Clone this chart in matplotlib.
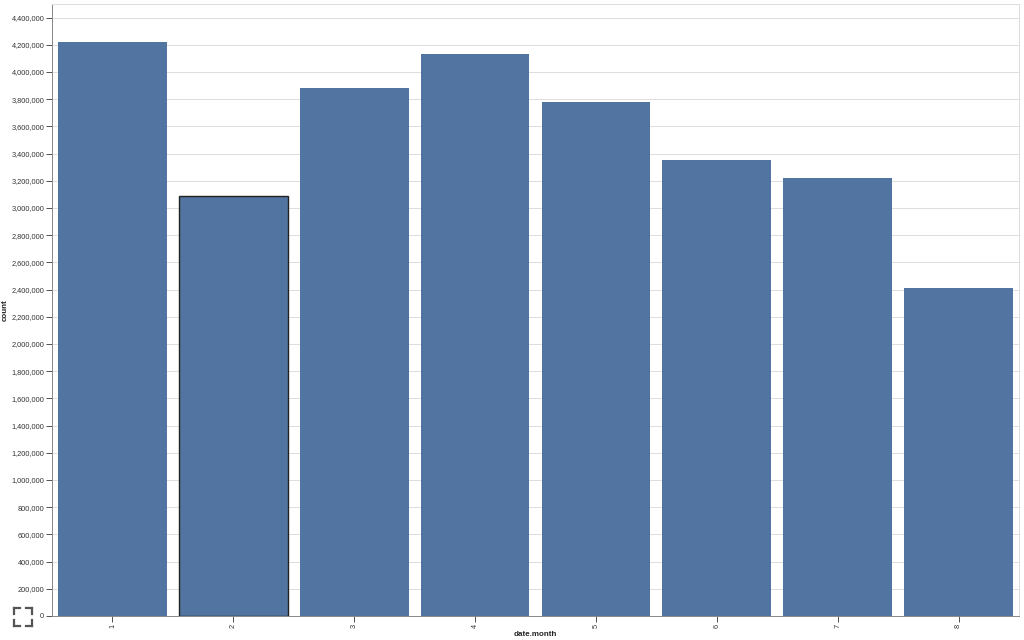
import matplotlib.pyplot as plt
from matplotlib.ticker import MultipleLocator, FuncFormatter

plt.rcParams['font.family'] = ['Liberation Sans', 'DejaVu Sans']

# month -> count
months = ['1', '2', '3', '4', '5', '6', '7', '8']
counts = [4220000, 3090000, 3880000, 4130000, 3780000, 3350000, 3220000, 2415000]
highlighted = '2'

fig = plt.figure(figsize=(10.24, 6.4), dpi=100)
ax = fig.add_axes([52 / 1024, 24 / 640, 967 / 1024, 612 / 640])

x = range(len(months))
edges = ['#222222' if m == highlighted else 'none' for m in months]
ax.bar(x, counts, width=0.9, color='#5274a1', edgecolor=edges, linewidth=1.0, zorder=3)

ax.set_xlim(-0.5, len(months) - 0.5)
ax.set_ylim(0, 4500000)
ax.set_xticks(list(x))
ax.set_xticklabels(months, rotation=90, fontsize=5.3, color='#333333')
ax.yaxis.set_major_locator(MultipleLocator(200000))
ax.yaxis.set_major_formatter(FuncFormatter(lambda v, p: f'{int(v):,}'))
ax.tick_params(axis='y', labelsize=5.3, colors='#333333', length=4, width=0.6, pad=1.5)
ax.tick_params(axis='x', length=4, width=0.6, pad=1.5, colors='#333333')
for t in ax.get_yticklines() + ax.get_xticklines():
    t.set_color('#888888')

ax.grid(axis='y', color='#dddddd', linewidth=0.7, zorder=0)
for side in ['top', 'right']:
    ax.spines[side].set_color('#dddddd')
    ax.spines[side].set_linewidth(0.7)
for side in ['left', 'bottom']:
    ax.spines[side].set_color('#888888')
    ax.spines[side].set_linewidth(0.7)

ax.set_xlabel('date.month', fontsize=5.8, fontweight='bold', color='#222222')
ax.set_ylabel('count', fontsize=5.8, fontweight='bold', color='#222222')
ax.xaxis.set_label_coords(0.5, -0.0245)
ax.yaxis.set_label_coords(-0.0445, 0.5)

# fullscreen icon in the corner
c = '#555555'
lw = 1.6
for (x0, y0, dx, dy) in [(14, 608, 1, 1), (32, 608, -1, 1), (14, 626, 1, -1), (32, 626, -1, -1)]:
    fig.add_artist(plt.Line2D([x0 / 1024, (x0 + 6 * dx) / 1024], [1 - y0 / 640, 1 - y0 / 640],
                              color=c, lw=lw))
    fig.add_artist(plt.Line2D([x0 / 1024, x0 / 1024], [1 - y0 / 640, 1 - (y0 + 6 * dy) / 640],
                              color=c, lw=lw))

fig.savefig('out.png', dpi=100)
